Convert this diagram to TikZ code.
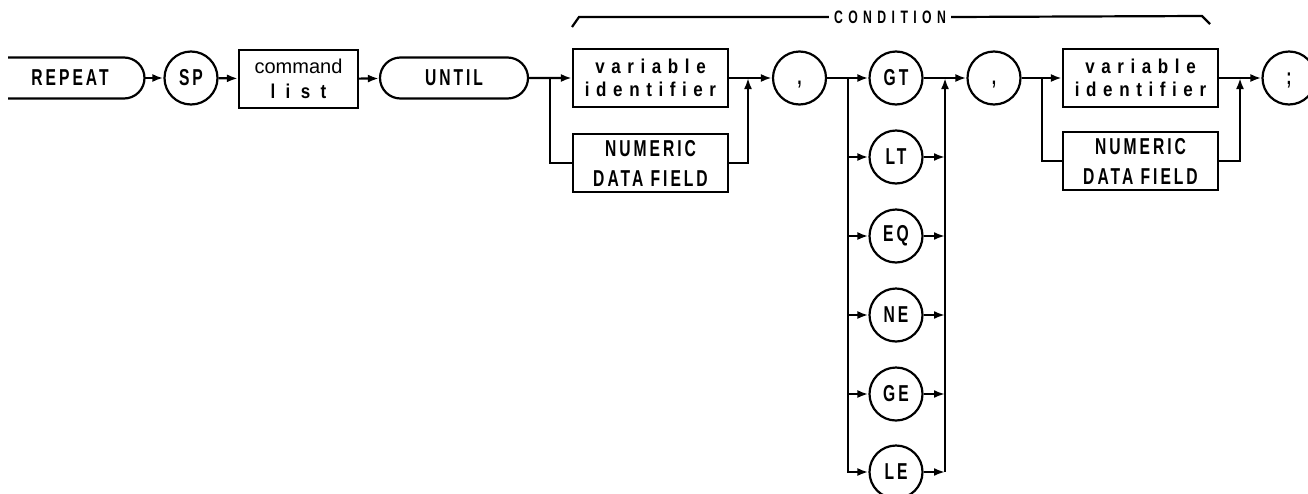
\documentclass[tikz,border=0pt]{standalone}
\usepackage{fontspec}
\setmainfont{Liberation Sans}
\newfontfamily\capsfont{Liberation Sans Bold}[FakeStretch=0.68,LetterSpace=13]
\newfontfamily\lowfont{Liberation Sans Bold}[FakeStretch=0.85,LetterSpace=33]
\usepackage{tikz}
\usetikzlibrary{arrows.meta,positioning,shapes.misc,calc}

\begin{document}
\begin{tikzpicture}[
  x=1pt, y=-1pt, line width=2.2pt,
  caps/.style={font=\capsfont\fontsize{23}{30}\selectfont},
  box/.style={draw, minimum width=155pt, minimum height=58pt, inner sep=0pt, align=center},
  term/.style={draw, circle, minimum size=53pt, inner sep=0pt, caps},
  pill/.style={draw, rounded rectangle, minimum width=148pt, minimum height=41pt, inner sep=0pt, caps},
  arrow/.style={-{Latex[length=11pt,width=8pt]}},
]
  \useasboundingbox (0,0) rectangle (1308,493);

  % main row
  \node[caps] (repeat) at (70,78) {REPEAT};
  \draw (8,57.5) -- (124,57.5) arc[start angle=-90, end angle=90, radius=20.5] -- (8,98.5);
  \coordinate (repeatend) at (144.5,78);
  \node[term] (sp) at (191,78) {SP};
  \node[box, minimum width=119pt, font=\fontsize{20}{25}\selectfont] (cmd) at (298.5,79)
    {command\\{\lowfont\addfontfeature{LetterSpace=52}list}};
  \node[pill] (until) at (454,78) {UNTIL};
  \node[box, font=\lowfont\fontsize{20}{23}\selectfont] (var1) at (650.5,78) {variable\\identifier};
  \node[box, caps] (num1) at (650.5,163) {NUMERIC\\DATA FIELD};
  \node[term] (comma1) at (799.5,78) {\vphantom{A},};

  % condition column
  \node[term] (gt) at (896,78) {GT};
  \node[term] (lt) at (896,157) {LT};
  \node[term] (eq) at (896,236) {EQ};
  \node[term] (ne) at (896,315) {NE};
  \node[term] (ge) at (896,394) {GE};
  \node[term] (le) at (896,472) {LE};

  \node[term] (comma2) at (994,78) {\vphantom{A},};
  \node[box, font=\lowfont\fontsize{20}{23}\selectfont] (var2) at (1140.5,78) {variable\\identifier};
  \node[box, caps] (num2) at (1140.5,161) {NUMERIC\\DATA FIELD};
  \node[term] (semi) at (1289,78) {\vphantom{A};};

  \node[font=\capsfont\fontsize{18}{18}\selectfont\addfontfeature{LetterSpace=30}, inner sep=4pt] (cond) at (890,17) {CONDITION};

  \coordinate (split1) at (550,78);
  \coordinate (join1) at (748,78);
  \coordinate (split2) at (848,78);
  \coordinate (join2) at (945,78);
  \coordinate (split3) at (1042,78);
  \coordinate (join3) at (1240,78);

  % connectors
  \draw[arrow] (repeatend) -- (sp);
  \draw[arrow] (sp) -- (cmd);
  \draw[arrow] (cmd) -- (until);
  \draw[arrow] (until) -- (var1);
  \draw (split1) |- (num1);
  \draw[arrow] (num1) -| (join1);
  \draw[arrow] (var1) -- (comma1);
  \draw[arrow] (comma1) -- (gt);
  \draw[arrow] (split2) |- (lt);
  \draw[arrow] (split2) |- (eq);
  \draw[arrow] (split2) |- (ne);
  \draw[arrow] (split2) |- (ge);
  \draw[arrow] (split2) |- (le);
  \draw[arrow] (lt) -- (lt -| join2);
  \draw[arrow] (eq) -- (eq -| join2);
  \draw[arrow] (ne) -- (ne -| join2);
  \draw[arrow] (ge) -- (ge -| join2);
  \draw[arrow] (le) -- (le -| join2);
  \draw[arrow] (le -| join2) -- (join2);
  \draw[arrow] (gt) -- (comma2);
  \draw[arrow] (comma2) -- (var2);
  \draw (split3) |- (num2);
  \draw[arrow] (num2) -| (join3);
  \draw[arrow] (var2) -- (semi);

  % condition bracket
  \draw (572,27) -- (579,17) -- (cond.west);
  \draw (cond.east) -- (1202,16) -- (1210,24);
\end{tikzpicture}
\end{document}
